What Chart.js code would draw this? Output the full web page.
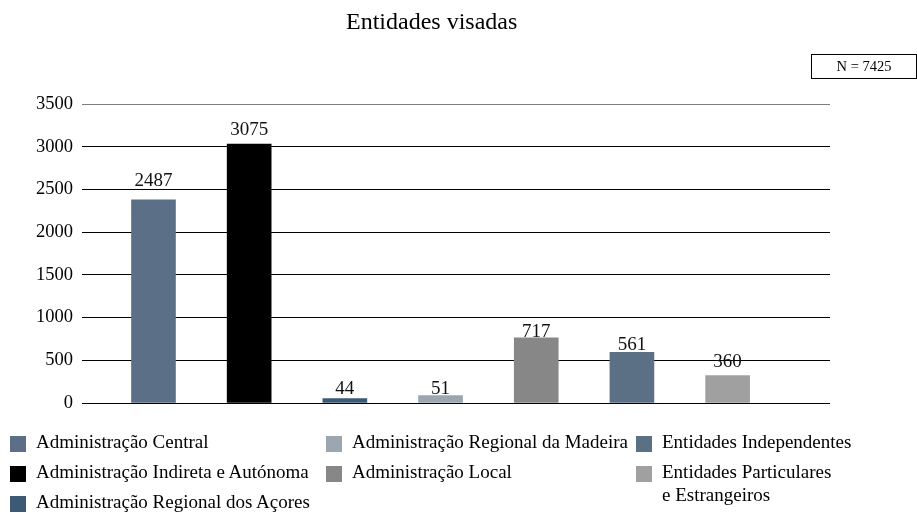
<!DOCTYPE html>
<html lang="pt">
<head>
<meta charset="utf-8">
<title>Entidades visadas</title>
<script src="https://cdn.jsdelivr.net/npm/chart.js@4/dist/chart.umd.min.js"></script>
<style>
    body { margin: 0; background: #fff; }
    #wrap { position: relative; width: 917px; height: 513px; font-family: 'Liberation Serif', 'Times New Roman', serif; color: #000; }
    #chart { position: absolute; left: 0; top: 0; }
    .title { position: absolute; left: 346px; top: 6px; font-size: 24px; line-height: 30px; white-space: nowrap; }
    .total { position: absolute; left: 811px; top: 54px; width: 104px; height: 23px; border: 1px solid #000; font-size: 14.5px; line-height: 23px; text-align: center; }
    .legend { position: absolute; top: 430px; left: 10px; display: flex; }
    .legend-col { display: flex; flex-direction: column; }
    .legend-item { display: flex; align-items: flex-start; min-height: 30px; font-size: 19px; line-height: 23px; white-space: nowrap; }
    .legend-box { width: 16px; height: 16px; margin-top: 6px; margin-right: 10px; flex: none; }
</style>
</head>
<body>
<div id="wrap">
    <canvas id="chart" width="917" height="513"></canvas>
    <div class="title">Entidades visadas</div>
    <div class="total">N = 7425</div>
    <div class="legend" id="legend"></div>
</div>
<script>
"use strict";

const categories = [
    'Administração Central',
    'Administração Indireta e Autónoma',
    'Administração Regional dos Açores',
    'Administração Regional da Madeira',
    'Administração Local',
    'Entidades Independentes',
    ['Entidades Particulares', 'e Estrangeiros']
];
// printed numbers above the bars
const valueLabels = [2487, 3075, 44, 51, 717, 561, 360];
// bar heights as they are drawn in the picture
const barHeights = [2377, 3032, 51, 86, 764, 593, 320];
const barColors = ['#5b7086', '#000000', '#3c5a74', '#9ba6b1', '#878787', '#5b6f85', '#a0a0a0'];
const yTicks = [0, 500, 1000, 1500, 2000, 2500, 3000, 3500];
const legendColumns = [[0, 1, 2], [3, 4], [5, 6]];

const FONT = "'Liberation Serif', 'Times New Roman', serif";

const valueLabelPlugin = {
    id: 'valueLabels',
    afterDatasetsDraw(chart) {
        const ctx = chart.ctx;
        const yScale = chart.scales.y;
        const meta = chart.getDatasetMeta(0);
        ctx.save();
        ctx.font = '19px ' + FONT;
        ctx.fillStyle = '#111';
        ctx.textAlign = 'center';
        ctx.textBaseline = 'alphabetic';
        meta.data.forEach((bar, i) => {
            ctx.fillText(String(valueLabels[i]), bar.x, yScale.getPixelForValue(valueLabels[i]) - 5);
        });
        ctx.restore();
    }
};

new Chart(document.getElementById('chart').getContext('2d'), {
    type: 'bar',
    data: {
        datasets: [{
            data: barHeights.map((v, i) => ({ x: i, y: v })),
            backgroundColor: barColors,
            barThickness: 44,
            borderWidth: 0
        }]
    },
    options: {
        responsive: false,
        animation: false,
        layout: {
            padding: { left: 0, right: 87, top: 104, bottom: 110 }
        },
        plugins: {
            legend: { display: false },
            tooltip: { enabled: false },
            title: { display: false }
        },
        scales: {
            x: {
                type: 'linear',
                offset: false,
                min: -0.747,
                max: 7.07,
                display: false
            },
            y: {
                min: yTicks[0],
                max: yTicks[yTicks.length - 1],
                afterFit(scale) {
                    scale.width = 82;
                },
                afterBuildTicks(scale) {
                    scale.ticks = yTicks.map(v => ({ value: v }));
                },
                ticks: {
                    padding: 9,
                    color: '#000',
                    font: { family: FONT, size: 18.5 },
                    callback: v => String(v)
                },
                grid: {
                    drawTicks: false,
                    lineWidth: 1,
                    color: ctx => ctx.tick && ctx.tick.value === 3500 ? '#7f7f7f' : '#000'
                },
                border: { display: false }
            }
        }
    },
    plugins: [valueLabelPlugin]
});

// legend in three columns, like the original
const legend = document.getElementById('legend');
const colWidths = [316, 310, 270];
legendColumns.forEach((col, c) => {
    const column = document.createElement('div');
    column.className = 'legend-col';
    column.style.width = colWidths[c] + 'px';
    col.forEach(i => {
        const item = document.createElement('div');
        item.className = 'legend-item';
        const box = document.createElement('span');
        box.className = 'legend-box';
        box.style.background = barColors[i];
        const text = document.createElement('span');
        const name = Array.isArray(categories[i]) ? categories[i] : [categories[i]];
        name.forEach((line, k) => {
            if (k > 0) text.appendChild(document.createElement('br'));
            text.appendChild(document.createTextNode(line));
        });
        item.appendChild(box);
        item.appendChild(text);
        column.appendChild(item);
    });
    legend.appendChild(column);
});
</script>
</body>
</html>
